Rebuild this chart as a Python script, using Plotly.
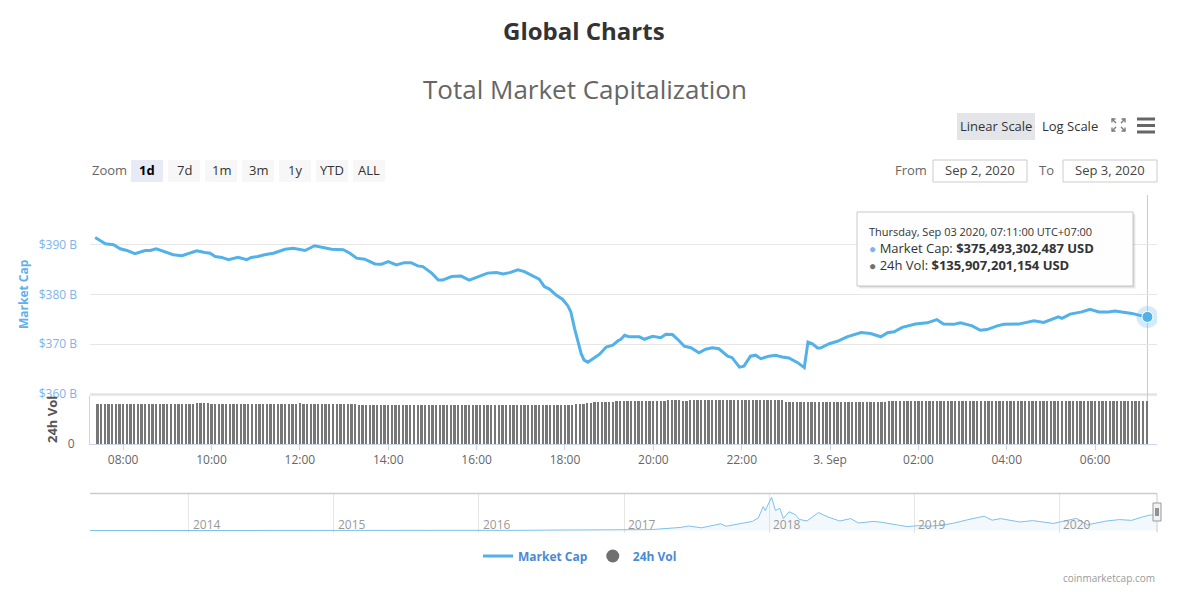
import plotly.graph_objects as go
import pandas as pd

W, H = 1185, 605          # target picture size
FIG_H = 613               # page is photographed slightly taller and scaled back to 605


def px(x):
    return x / W


def py(y):
    return 1 - y / H


# ---------------- data ----------------
mc_times = [
    "2020-09-02 07:22", "2020-09-02 07:29", "2020-09-02 07:36", "2020-09-02 07:47", "2020-09-02 07:56",
    "2020-09-02 08:05", "2020-09-02 08:16", "2020-09-02 08:30", "2020-09-02 08:37", "2020-09-02 08:45",
    "2020-09-02 08:57", "2020-09-02 09:08", "2020-09-02 09:20", "2020-09-02 09:28", "2020-09-02 09:40",
    "2020-09-02 09:51", "2020-09-02 09:58", "2020-09-02 10:05", "2020-09-02 10:14", "2020-09-02 10:23",
    "2020-09-02 10:36", "2020-09-02 10:48", "2020-09-02 10:54", "2020-09-02 11:03", "2020-09-02 11:12",
    "2020-09-02 11:24", "2020-09-02 11:40", "2020-09-02 11:51", "2020-09-02 12:07", "2020-09-02 12:20",
    "2020-09-02 12:32", "2020-09-02 12:43", "2020-09-02 12:59", "2020-09-02 13:08", "2020-09-02 13:17",
    "2020-09-02 13:28", "2020-09-02 13:42", "2020-09-02 13:51", "2020-09-02 14:00", "2020-09-02 14:11",
    "2020-09-02 14:22", "2020-09-02 14:31", "2020-09-02 14:40", "2020-09-02 14:47", "2020-09-02 14:59",
    "2020-09-02 15:08", "2020-09-02 15:14", "2020-09-02 15:26", "2020-09-02 15:39", "2020-09-02 15:50",
    "2020-09-02 16:08", "2020-09-02 16:15", "2020-09-02 16:27", "2020-09-02 16:36", "2020-09-02 16:45",
    "2020-09-02 16:56", "2020-09-02 17:05", "2020-09-02 17:14", "2020-09-02 17:25", "2020-09-02 17:32",
    "2020-09-02 17:39", "2020-09-02 17:48", "2020-09-02 17:57", "2020-09-02 18:04", "2020-09-02 18:08",
    "2020-09-02 18:13", "2020-09-02 18:17", "2020-09-02 18:22", "2020-09-02 18:26", "2020-09-02 18:31",
    "2020-09-02 18:40", "2020-09-02 18:47", "2020-09-02 18:56", "2020-09-02 19:05", "2020-09-02 19:12",
    "2020-09-02 19:16", "2020-09-02 19:21", "2020-09-02 19:27", "2020-09-02 19:41", "2020-09-02 19:48",
    "2020-09-02 19:59", "2020-09-02 20:10", "2020-09-02 20:17", "2020-09-02 20:26", "2020-09-02 20:35",
    "2020-09-02 20:42", "2020-09-02 20:51", "2020-09-02 21:02", "2020-09-02 21:11", "2020-09-02 21:20",
    "2020-09-02 21:29", "2020-09-02 21:41", "2020-09-02 21:47", "2020-09-02 21:57", "2020-09-02 22:03",
    "2020-09-02 22:12", "2020-09-02 22:19", "2020-09-02 22:26", "2020-09-02 22:37", "2020-09-02 22:46",
    "2020-09-02 22:55", "2020-09-02 23:04", "2020-09-02 23:16", "2020-09-02 23:25", "2020-09-02 23:30",
    "2020-09-02 23:36", "2020-09-02 23:43", "2020-09-02 23:47", "2020-09-02 23:59", "2020-09-03 00:10",
    "2020-09-03 00:23", "2020-09-03 00:42", "2020-09-03 00:55", "2020-09-03 01:09", "2020-09-03 01:18",
    "2020-09-03 01:27", "2020-09-03 01:38", "2020-09-03 01:56", "2020-09-03 02:12", "2020-09-03 02:25",
    "2020-09-03 02:34", "2020-09-03 02:48", "2020-09-03 02:57", "2020-09-03 03:13", "2020-09-03 03:24",
    "2020-09-03 03:33", "2020-09-03 03:47", "2020-09-03 03:56", "2020-09-03 04:16", "2020-09-03 04:37",
    "2020-09-03 04:50", "2020-09-03 05:04", "2020-09-03 05:10", "2020-09-03 05:15", "2020-09-03 05:26",
    "2020-09-03 05:42", "2020-09-03 05:53", "2020-09-03 06:05", "2020-09-03 06:18", "2020-09-03 06:27",
    "2020-09-03 06:41", "2020-09-03 06:50", "2020-09-03 06:59", "2020-09-03 07:11",
]

# Market cap, billions USD
mc_values = [
    391.45, 390.9, 390.2, 390.0, 389.2,
    388.85, 388.2, 388.85, 388.85, 389.2,
    388.65, 388.0, 387.8, 388.2, 388.8,
    388.45, 388.3, 387.65, 387.45, 387.0,
    387.5, 387.0, 387.45, 387.65, 388.0,
    388.3, 389.1, 389.3, 388.85, 389.8,
    389.5, 389.1, 389.0, 388.3, 387.3,
    387.1, 386.15, 386.1, 386.6, 385.95,
    386.4, 386.4, 385.75, 385.6, 384.3,
    382.9, 382.9, 383.6, 383.7, 382.9,
    383.9, 384.3, 384.4, 384.15, 384.4,
    384.95, 384.6, 383.95, 383.1, 381.6,
    381.1, 379.9, 379.0, 377.7, 376.5,
    373.2, 370.8, 368.1, 366.8, 366.4,
    367.3, 368.0, 369.45, 369.8, 370.7,
    371.0, 371.8, 371.5, 371.5, 371.0,
    371.6, 371.3, 372.0, 371.95, 370.7,
    369.6, 369.3, 368.3, 369.0, 369.3,
    369.1, 367.6, 367.3, 365.4, 365.6,
    367.6, 367.8, 367.1, 367.6, 367.8,
    367.45, 367.25, 366.3, 365.3, 370.45,
    370.1, 369.25, 369.25, 370.1, 370.6,
    371.5, 372.35, 372.15, 371.5, 372.3,
    372.5, 373.4, 374.05, 374.3, 374.95,
    374.05, 374.0, 374.3, 373.7, 372.8,
    372.95, 373.7, 374.0, 374.05, 374.7,
    374.4, 375.2, 375.5, 375.2, 376.05,
    376.5, 377.0, 376.5, 376.5, 376.7,
    376.4, 376.2, 375.85, 375.493302487,
]

# 24h volume, billions USD, one bar every 5 minutes starting at vol_start
vol_start = "2020-09-02 07:25"
vol_values = [
    127.0, 127.0, 127.0, 127.0, 127.0, 127.0, 127.0,                                 # 07:25-07:55
    127.0, 127.0, 127.0, 127.0, 127.0, 127.0, 127.0, 127.0, 127.0, 127.0, 127.0, 127.0,  # 08
    127.0, 127.0, 127.0, 127.0, 127.0, 127.0, 127.0, 127.0, 131.1, 131.1, 131.1, 131.1,  # 09
    127.0, 127.0, 127.0, 127.0, 127.0, 127.0, 127.0, 127.0, 127.0, 127.0, 127.0, 127.0,  # 10
    127.0, 127.0, 127.0, 127.0, 127.0, 127.0, 127.0, 127.0, 127.0, 127.0, 127.0, 127.0,  # 11
    129.5, 127.0, 127.0, 127.0, 127.0, 127.0, 127.0, 127.0, 127.0, 127.0, 127.0, 127.0,  # 12
    127.0, 127.0, 127.0, 127.0, 123.8, 123.8, 123.8, 123.8, 123.8, 123.8, 123.8, 123.8,  # 13
    123.8, 123.8, 123.8, 123.8, 123.8, 123.8, 123.8, 123.8, 123.8, 123.8, 123.8, 123.8,  # 14
    123.8, 123.8, 123.8, 123.8, 123.8, 123.8, 123.8, 123.8, 123.8, 123.8, 123.8, 123.8,  # 15
    123.8, 123.8, 123.8, 123.8, 122.5, 122.5, 122.5, 122.5, 122.5, 122.5, 122.5, 122.5,  # 16
    122.5, 122.5, 122.5, 122.5, 122.5, 122.5, 122.5, 122.5, 122.5, 122.5, 123.8, 123.8,  # 17
    123.8, 123.8, 123.8, 127.0, 127.0, 127.0, 131.1, 131.1, 133.3, 133.3, 133.3, 133.3,  # 18
    133.3, 133.3, 136.5, 136.5, 136.5, 136.5, 136.5, 136.5, 136.5, 136.5, 136.5, 136.5,  # 19
    136.5, 136.5, 136.5, 136.5, 139.7, 139.7, 139.7, 139.7, 136.5, 136.5, 139.7, 139.7,  # 20
    139.7, 139.7, 139.7, 139.7, 139.7, 139.7, 139.7, 139.7, 139.7, 139.7, 139.7, 139.7,  # 21
    139.7, 139.7, 139.7, 139.7, 139.7, 139.7, 139.7, 139.7, 139.7, 139.7, 139.7, 139.7,  # 22
    132.4, 132.4, 132.4, 132.4, 132.4, 132.4, 132.4, 132.4, 132.4, 132.4, 132.4, 132.4,  # 23
    132.4, 132.4, 132.4, 132.4, 132.4, 132.4, 132.4, 132.4, 132.4, 132.4, 132.4, 132.4,  # 00
    132.4, 132.4, 132.4, 132.4, 136.5, 136.5, 136.5, 136.5, 136.5, 136.5, 136.5, 136.5,  # 01
    136.5, 136.5, 136.5, 136.5, 136.5, 136.5, 136.5, 136.5, 136.5, 136.5, 136.5, 136.5,  # 02
    136.5, 136.5, 136.5, 136.5, 136.5, 136.5, 136.5, 136.5, 136.5, 136.5, 136.5, 136.5,  # 03
    136.5, 136.5, 136.5, 136.5, 136.5, 136.5, 136.5, 136.5, 136.5, 136.5, 136.5, 136.5,  # 04
    136.5, 136.5, 136.5, 136.5, 136.5, 136.5, 136.5, 136.5, 136.5, 136.5, 136.5, 136.5,  # 05
    136.5, 136.5, 136.5, 136.5, 136.5, 136.5, 136.5, 136.5, 136.5, 136.5, 136.5, 136.5,  # 06
    136.2, 136.0, 135.9,                                                                 # 07:00-07:10
]
vol_times = pd.date_range(vol_start, periods=len(vol_values), freq="5min")

# Navigator: total market cap history (billions USD)
nav_dates = [
    "2013-04-28", "2013-07-05", "2013-10-01", "2013-11-30", "2014-01-05", "2014-04-10",
    "2014-07-01", "2014-10-05", "2015-01-14", "2015-04-15", "2015-07-10", "2015-10-20",
    "2016-01-05", "2016-04-20", "2016-06-17", "2016-10-01", "2017-01-04", "2017-03-10",
    "2017-05-24", "2017-06-12", "2017-07-15", "2017-09-01", "2017-09-15", "2017-10-20",
    "2017-11-20", "2017-12-05", "2017-12-17", "2017-12-22", "2018-01-07", "2018-01-17",
    "2018-01-28", "2018-02-06", "2018-02-20", "2018-03-08", "2018-03-18", "2018-04-06",
    "2018-05-05", "2018-05-29", "2018-06-28", "2018-07-25", "2018-08-14", "2018-09-20",
    "2018-10-10", "2018-11-20", "2018-12-15", "2019-01-10", "2019-02-07", "2019-03-15",
    "2019-04-10", "2019-05-15", "2019-06-26", "2019-07-16", "2019-08-06", "2019-09-24",
    "2019-10-26", "2019-12-17", "2020-02-13", "2020-03-12", "2020-04-29", "2020-06-01",
    "2020-07-01", "2020-07-28", "2020-08-17", "2020-09-03",
]
nav_values = [
    1.6, 1.1, 2.0, 15.0, 11.0, 6.5,
    8.5, 5.5, 3.5, 3.5, 4.5, 4.5,
    7.0, 7.5, 12.0, 11.0, 17.5, 25.0,
    80.0, 115.0, 70.0, 170.0, 110.0, 170.0,
    230.0, 320.0, 600.0, 500.0, 830.0, 500.0,
    560.0, 300.0, 470.0, 400.0, 280.0, 240.0,
    450.0, 340.0, 240.0, 300.0, 190.0, 230.0,
    210.0, 140.0, 100.0, 125.0, 110.0, 140.0,
    185.0, 270.0, 360.0, 260.0, 300.0, 215.0,
    250.0, 180.0, 305.0, 145.0, 240.0, 275.0,
    255.0, 340.0, 390.0, 375.0,
]
nav_year_ticks = ["2014-01-01", "2015-01-01", "2016-01-01", "2017-01-01",
                  "2018-01-01", "2019-01-01", "2020-01-01"]
nav_year_labels = ["2014", "2015", "2016", "2017", "2018", "2019", "2020"]

x_tick_times = ["2020-09-02 08:00", "2020-09-02 10:00", "2020-09-02 12:00", "2020-09-02 14:00",
                "2020-09-02 16:00", "2020-09-02 18:00", "2020-09-02 20:00", "2020-09-02 22:00",
                "2020-09-03 00:00", "2020-09-03 02:00", "2020-09-03 04:00", "2020-09-03 06:00"]
x_tick_labels = ["08:00", "10:00", "12:00", "14:00", "16:00", "18:00", "20:00", "22:00",
                 "3. Sep", "02:00", "04:00", "06:00"]

y_tick_vals = [360, 370, 380, 390, 400]
y_tick_labels = ["$360 B", "$370 B", "$380 B", "$390 B", ""]

zoom_buttons = ["1d", "7d", "1m", "3m", "1y", "YTD", "ALL"]
tooltip_date = "Thursday, Sep 03 2020, 07:11:00 UTC+07:00"
tooltip_mc = 375493302487
tooltip_vol = 135907201154

# ---------------- styles ----------------
LINE = "#52b1e8"
LABEL_BLUE = "#7cb5ec"
GREY_TXT = "#666666"
FONT = "Open Sans, sans-serif"
x_range = ["2020-09-02 07:15", "2020-09-03 07:24"]

fig = go.Figure()

# navigator series
fig.add_trace(go.Scatter(x=nav_dates, y=nav_values, xaxis="x3", yaxis="y3", mode="lines",
                         line=dict(color="#7cc0ec", width=1), fill="tozeroy",
                         fillcolor="rgba(124,181,236,0.09)", showlegend=False, hoverinfo="skip"))

# volume bars
fig.add_trace(go.Bar(x=vol_times, y=vol_values, xaxis="x2", yaxis="y2", width=190000,
                     marker=dict(color="#777777", line=dict(width=0)), showlegend=False,
                     hoverinfo="skip"))

# market cap line
fig.add_trace(go.Scatter(x=mc_times, y=mc_values, xaxis="x", yaxis="y", mode="lines",
                         line=dict(color=LINE, width=3), name="<b>Market Cap</b>",
                         hoverinfo="skip"))

# hover marker on last point
fig.add_trace(go.Scatter(x=[mc_times[-1]], y=[mc_values[-1]], xaxis="x", yaxis="y",
                         mode="markers", marker=dict(size=22, color="rgba(82,177,232,0.25)"),
                         showlegend=False, hoverinfo="skip"))
fig.add_trace(go.Scatter(x=[mc_times[-1]], y=[mc_values[-1]], xaxis="x", yaxis="y",
                         mode="markers",
                         marker=dict(size=11, color=LINE, line=dict(color="white", width=1)),
                         showlegend=False, hoverinfo="skip"))

# legend entry for volume (circle symbol)
fig.add_trace(go.Scatter(x=[None], y=[None], xaxis="x2", yaxis="y2", mode="markers",
                         marker=dict(size=13, color="#707070", symbol="circle"),
                         name="<b>24h Vol</b>"))

shapes = []
annotations = []

# volume pane top separator
shapes.append(dict(type="line", xref="paper", yref="paper", x0=px(90), x1=px(1157),
                   y0=py(394.5), y1=py(394.5), line=dict(color="#e3e3e3", width=2.5), layer="below"))

# crosshair
shapes.append(dict(type="line", xref="x", yref="paper", x0=mc_times[-1], x1=mc_times[-1],
                   y0=py(444), y1=py(195), line=dict(color="#cccccc", width=1), layer="below"))

# navigator outline
shapes.append(dict(type="line", xref="paper", yref="paper", x0=px(90), x1=px(1157),
                   y0=py(493.5), y1=py(493.5), line=dict(color="#cccccc", width=1.5)))
shapes.append(dict(type="line", xref="paper", yref="paper", x0=px(1157), x1=px(1157),
                   y0=py(493.5), y1=py(532.5), line=dict(color="#cccccc", width=1)))
shapes.append(dict(type="rect", xref="paper", yref="paper", x0=px(1153), x1=px(1161),
                   y0=py(521), y1=py(503), fillcolor="#f2f2f2", line=dict(color="#999999", width=1)))
for hx in (1156, 1158):
    shapes.append(dict(type="line", xref="paper", yref="paper", x0=px(hx), x1=px(hx),
                       y0=py(516), y1=py(508), line=dict(color="#333333", width=1)))
for i, yr in enumerate(nav_year_ticks):
    annotations.append(dict(xref="x3", yref="paper", x=yr, y=py(524), xanchor="left",
                            yanchor="middle", xshift=2, text=nav_year_labels[i], showarrow=False,
                            font=dict(family=FONT, size=12, color="#999999")))

# zoom buttons
annotations.append(dict(xref="paper", yref="paper", x=px(90), y=py(170), xanchor="left",
                        yanchor="middle", text="Zoom", showarrow=False,
                        font=dict(family=FONT, size=13, color=GREY_TXT)))
for i, lab in enumerate(zoom_buttons):
    x0 = 131 + 37 * i
    sel = i == 0
    shapes.append(dict(type="rect", xref="paper", yref="paper", x0=px(x0), x1=px(x0 + 32),
                       y0=py(182), y1=py(160), fillcolor="#e6ebf5" if sel else "#f7f7f7",
                       line=dict(width=0)))
    annotations.append(dict(xref="paper", yref="paper", x=px(x0 + 16), y=py(170.5),
                            xanchor="center", yanchor="middle",
                            text=f"<b>{lab}</b>" if sel else lab, showarrow=False,
                            font=dict(family=FONT, size=13, color="#000000" if sel else "#333333")))

# From / To
annotations.append(dict(xref="paper", yref="paper", x=px(911), y=py(170), xanchor="center",
                        yanchor="middle", text="From", showarrow=False,
                        font=dict(family=FONT, size=13, color=GREY_TXT)))
annotations.append(dict(xref="paper", yref="paper", x=px(1046), y=py(170), xanchor="center",
                        yanchor="middle", text="To", showarrow=False,
                        font=dict(family=FONT, size=13, color=GREY_TXT)))
for bx0, txt in ((933, "Sep 2, 2020"), (1063, "Sep 3, 2020")):
    shapes.append(dict(type="rect", xref="paper", yref="paper", x0=px(bx0), x1=px(bx0 + 94),
                       y0=py(182), y1=py(160), fillcolor="white",
                       line=dict(color="#cccccc", width=1)))
    annotations.append(dict(xref="paper", yref="paper", x=px(bx0 + 47), y=py(170.5),
                            xanchor="center", yanchor="middle", text=txt, showarrow=False,
                            font=dict(family=FONT, size=13, color="#444444")))

# scale buttons
shapes.append(dict(type="rect", xref="paper", yref="paper", x0=px(957), x1=px(1035),
                   y0=py(140), y1=py(113), fillcolor="#e3e5e9", line=dict(width=0)))
annotations.append(dict(xref="paper", yref="paper", x=px(996), y=py(126), xanchor="center",
                        yanchor="middle", text="Linear Scale", showarrow=False,
                        font=dict(family=FONT, size=13, color="#333333")))
annotations.append(dict(xref="paper", yref="paper", x=px(1070), y=py(126), xanchor="center",
                        yanchor="middle", text="Log Scale", showarrow=False,
                        font=dict(family=FONT, size=13, color="#333333")))


# fullscreen icon
def seg(pts):
    return "M " + " L ".join(f"{px(a)},{py(b)}" for a, b in pts)


icon_paths = [
    [(1112, 122.5), (1112, 119), (1115.5, 119)], [(1112, 119), (1116, 123)],
    [(1121.5, 119), (1125, 119), (1125, 122.5)], [(1125, 119), (1121, 123)],
    [(1112, 127.5), (1112, 131), (1115.5, 131)], [(1112, 131), (1116, 127)],
    [(1121.5, 131), (1125, 131), (1125, 127.5)], [(1125, 131), (1121, 127)],
]
for p in icon_paths:
    shapes.append(dict(type="path", xref="paper", yref="paper", path=seg(p),
                       line=dict(color="#777777", width=1.3)))
# hamburger
for hy in (119, 125.5, 132):
    shapes.append(dict(type="line", xref="paper", yref="paper", x0=px(1137), x1=px(1155),
                       y0=py(hy), y1=py(hy), line=dict(color="#666666", width=3)))

# tooltip
for off, alpha in ((3, 0.04), (2, 0.06), (1, 0.08)):
    shapes.append(dict(type="rect", xref="paper", yref="paper", x0=px(857 + off), x1=px(1133 + off),
                       y0=py(286 + off), y1=py(212 + off), fillcolor=f"rgba(0,0,0,{alpha})",
                       line=dict(width=0)))
shapes.append(dict(type="rect", xref="paper", yref="paper", x0=px(857), x1=px(1133),
                   y0=py(286), y1=py(212), fillcolor="rgba(255,255,255,0.97)",
                   line=dict(color="#c8c8c8", width=1)))
tooltip_text = (
    f"<span style='font-size:11px'>{tooltip_date}</span><br>"
    f"<span style='color:{LABEL_BLUE};font-size:12px'>●</span>"
    f" Market Cap: <b>${tooltip_mc:,} USD</b><br>"
    f"<span style='color:#707070;font-size:12px'>●</span>"
    f" 24h Vol: <b>${tooltip_vol:,} USD</b>"
)
annotations.append(dict(xref="paper", yref="paper", x=px(867), y=py(249), xanchor="left",
                        yanchor="middle", align="left", text=tooltip_text, showarrow=False,
                        font=dict(family=FONT, size=13, color="#333333")))

# titles
annotations.append(dict(xref="paper", yref="paper", x=px(584), y=py(30), xanchor="center",
                        yanchor="middle", text="<b>Global Charts</b>", showarrow=False,
                        font=dict(family=FONT, size=24, color="#333333")))
annotations.append(dict(xref="paper", yref="paper", x=px(585), y=py(89), xanchor="center",
                        yanchor="middle", text="Total Market Capitalization", showarrow=False,
                        font=dict(family=FONT, size=26, color="#666666")))

# axis titles
annotations.append(dict(xref="paper", yref="paper", x=px(23), y=py(294), xanchor="center",
                        yanchor="middle", text="<b>Market Cap</b>", textangle=-90, showarrow=False,
                        font=dict(family=FONT, size=12, color="#5fb0ea")))
annotations.append(dict(xref="paper", yref="paper", x=px(52), y=py(420), xanchor="center",
                        yanchor="middle", text="<b>24h Vol</b>", textangle=-90, showarrow=False,
                        font=dict(family=FONT, size=13, color="#555555")))

# credits
annotations.append(dict(xref="paper", yref="paper", x=px(1157), y=py(578), xanchor="right",
                        yanchor="middle", text="coinmarketcap.com", showarrow=False,
                        font=dict(family=FONT, size=10, color="#999999")))

fig.update_layout(
    width=W, height=FIG_H, autosize=False,
    margin=dict(l=0, r=0, t=0, b=0),
    paper_bgcolor="white", plot_bgcolor="white",
    font=dict(family=FONT, color="#333333"),
    hovermode=False,
    bargap=0,
    showlegend=True,
    legend=dict(orientation="h", x=px(580), xanchor="center", y=py(556), yanchor="middle",
                font=dict(family=FONT, size=12, color="#4a8ad6"), bgcolor="rgba(0,0,0,0)",
                itemwidth=30, traceorder="normal"),
    xaxis=dict(domain=[px(90), px(1157)], range=x_range, type="date", anchor="y",
               showticklabels=False, showgrid=False, zeroline=False, showline=False),
    yaxis=dict(domain=[py(394), py(195)], range=[360, 400], anchor="x",
               tickvals=y_tick_vals, ticktext=y_tick_labels, showgrid=True,
               gridcolor="#e6e6e6", gridwidth=1, zeroline=False, showline=False, ticks="",
               ticklabelstandoff=12, tickfont=dict(family=FONT, size=12, color=LABEL_BLUE)),
    xaxis2=dict(domain=[px(90), px(1157)], range=x_range, type="date", anchor="y2",
                tickvals=x_tick_times, ticktext=x_tick_labels, showgrid=False, zeroline=False,
                showline=True, linecolor="#ccd6eb", linewidth=1, ticks="outside", ticklen=5,
                tickcolor="#ccd6eb", tickfont=dict(family=FONT, size=12, color=GREY_TXT)),
    yaxis2=dict(domain=[py(444), py(396)], range=[0, 152], anchor="x2", tickvals=[0],
                ticktext=["0"], showgrid=False, zeroline=False, showline=True,
                linecolor="#ccd6eb", linewidth=1, ticks="", ticklabelstandoff=12,
                tickfont=dict(family=FONT, size=12, color=GREY_TXT)),
    xaxis3=dict(domain=[px(90), px(1157)], range=["2013-04-28", "2020-09-03"], type="date",
                anchor="y3", tickvals=nav_year_ticks, showticklabels=False, showgrid=True,
                gridcolor="#e6e6e6", gridwidth=1, zeroline=False, showline=False, ticks=""),
    yaxis3=dict(domain=[py(532.7), py(493.5)], range=[-52, 926], anchor="x3",
                showticklabels=False, showgrid=False, zeroline=False, showline=False),
    shapes=shapes,
    annotations=annotations,
)

post_js = (
    "document.body.style.margin='0px';"
    "document.body.style.overflow='hidden';"
)
fig.write_html("out.html",
               config={"displayModeBar": False, "responsive": False},
               post_script=post_js)
